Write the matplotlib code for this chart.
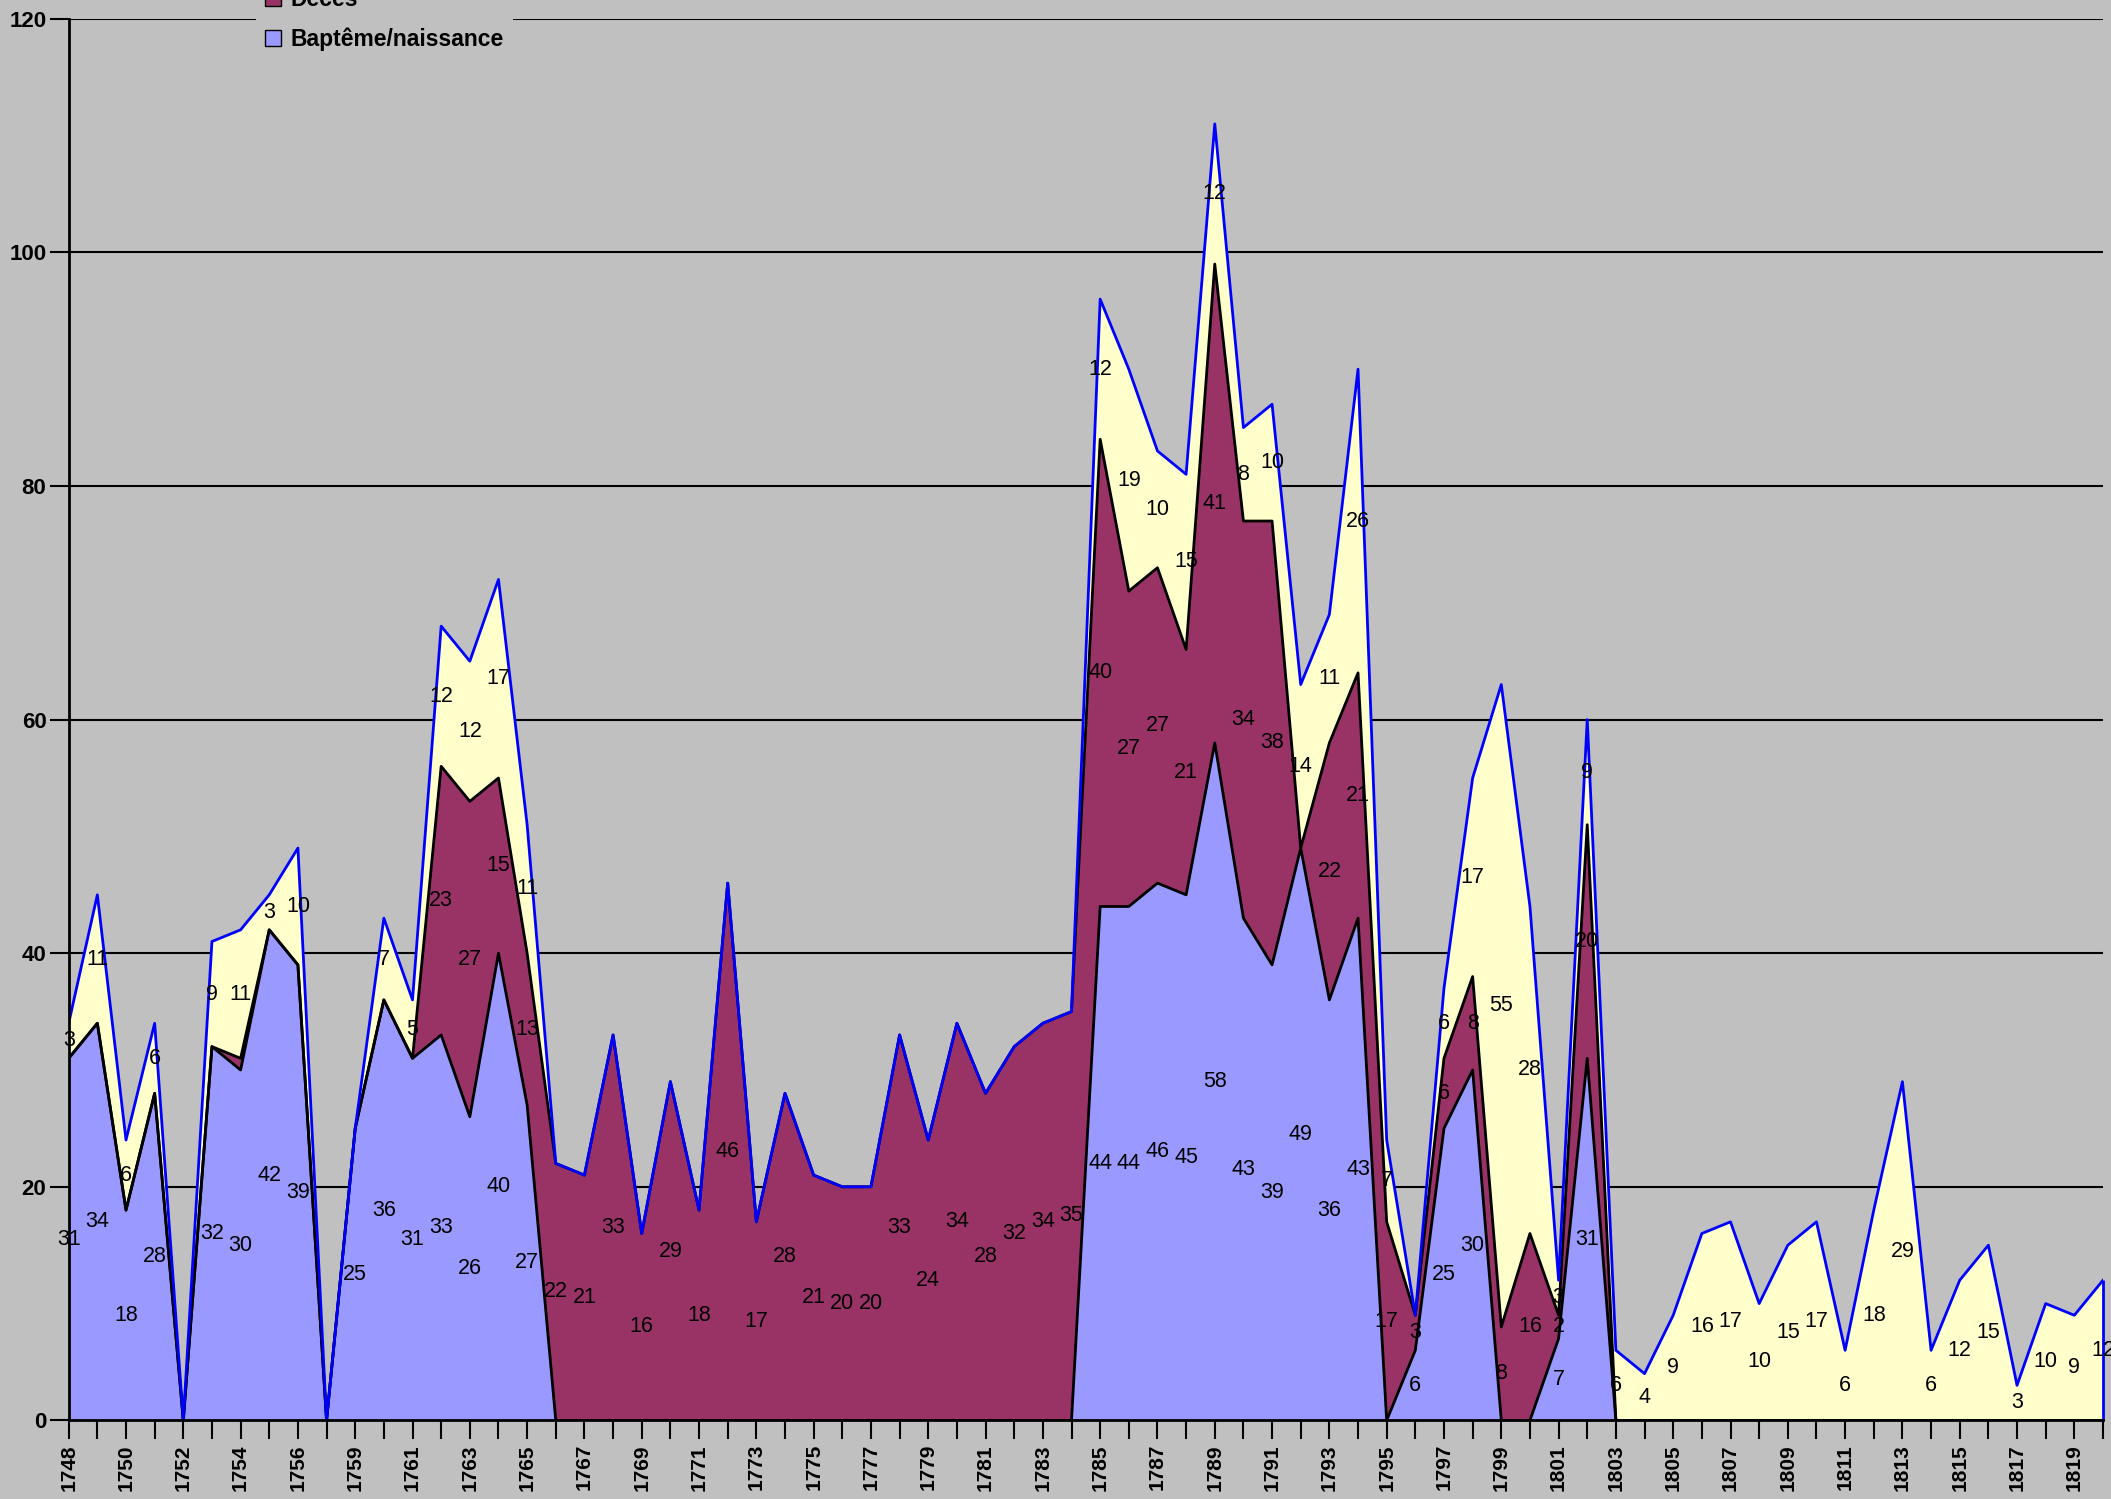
import numpy as np
import matplotlib
matplotlib.use('Agg')
import matplotlib.pyplot as plt
from matplotlib.patches import Patch

plt.rcParams['font.family'] = ['Liberation Sans', 'DejaVu Sans']

# categories (1758 missing in the source sheet)
years = list(range(1748, 1758)) + list(range(1759, 1821))

bapteme = [31, 34, 18, 28, 0, 32, 30, 42, 39, 0,
           25, 36, 31, 33, 26, 40, 27, 0, 0, 0,
           0, 0, 0, 0, 0, 0, 0, 0, 0, 0,
           0, 0, 0, 0, 0, 0, 44, 44, 46, 45,
           58, 43, 39, 49, 36, 43, 0, 6, 25, 30,
           0, 0, 7, 31, 0, 0, 0, 0, 0, 0,
           0, 0, 0, 0, 0, 0, 0, 0, 0, 0,
           0, 0]
deces = [0, 0, 0, 0, 0, 0, 1, 0, 0, 0,
         0, 0, 0, 23, 27, 15, 13, 22, 21, 33,
         16, 29, 18, 46, 17, 28, 21, 20, 20, 33,
         24, 34, 28, 32, 34, 35, 40, 27, 27, 21,
         41, 34, 38, 0, 22, 21, 17, 3, 6, 8,
         8, 16, 2, 20, 0, 0, 0, 0, 0, 0,
         0, 0, 0, 0, 0, 0, 0, 0, 0, 0,
         0, 0]
mariage = [3, 11, 6, 6, 0, 9, 11, 3, 10, 0,
           0, 7, 5, 12, 12, 17, 11, 0, 0, 0,
           0, 0, 0, 0, 0, 0, 0, 0, 0, 0,
           0, 0, 0, 0, 0, 0, 12, 19, 10, 15,
           12, 8, 10, 14, 11, 26, 7, 0, 6, 17,
           55, 28, 3, 9, 6, 4, 9, 16, 17, 10,
           15, 17, 6, 18, 29, 6, 12, 15, 3, 10,
           9, 12]

series_names = ['Mariage', 'Décès', 'Baptême/naissance']
col_b = '#9999FF'
col_d = '#993366'
col_m = '#FFFFCC'
bg = '#C0C0C0'

x = np.arange(len(years))
b = np.array(bapteme)
d = np.array(deces)
m = np.array(mariage)
c1 = b
c2 = b + d
c3 = c2 + m

fig = plt.figure(figsize=(21.11, 14.99), dpi=100, facecolor=bg)
ax = fig.add_axes([0.03254, 0.05244, 0.96366, 0.93502])
ax.set_facecolor(bg)

ax.fill_between(x, 0, c1, color=col_b, lw=0, zorder=2)
ax.fill_between(x, c1, c2, color=col_d, lw=0, zorder=2)
ax.fill_between(x, c2, c3, color=col_m, lw=0, zorder=2)
ax.plot(x, c1, color='black', lw=2, zorder=3)
ax.plot(x, c2, color='black', lw=2, zorder=3)
ax.plot(x, c3, color='#0000FF', lw=2, zorder=4)
ax.vlines(x[-1], 0, c3[-1], color='#0000FF', lw=2, zorder=4, clip_on=False)

# data labels in the middle of each band
for base, vals in ((np.zeros_like(b), b), (c1, d), (c2, m)):
    for xi, y0, v in zip(x, base, vals):
        if v > 1:
            ax.text(xi, y0 + v / 2, str(v), ha='center', va='center',
                    fontsize=15.5, zorder=5, clip_on=False)

ax.set_xlim(0, len(years) - 1)
ax.set_ylim(0, 120)
ax.set_yticks(range(0, 121, 20))
ax.set_xticks(x)
ax.set_xticklabels([str(y) if i % 2 == 0 else '' for i, y in enumerate(years)],
                   rotation=90, fontweight='bold', fontsize=15)
for t in ax.get_yticklabels():
    t.set_fontweight('bold')
    t.set_fontsize(16)
ax.tick_params(axis='x', length=14, width=1.5, pad=3)
ax.tick_params(axis='y', length=14, width=1.5, pad=2)

ax.set_axisbelow(True)
ax.yaxis.grid(True, color='black', lw=1.5)
ax.spines['top'].set_visible(False)
ax.spines['right'].set_visible(False)
ax.spines['left'].set_linewidth(2)
ax.spines['bottom'].set_linewidth(2)
for s in ('left', 'bottom'):
    ax.spines[s].set_zorder(6)

handles = [Patch(facecolor=col_m, edgecolor='black'),
           Patch(facecolor=col_d, edgecolor='black'),
           Patch(facecolor=col_b, edgecolor='black')]
leg = fig.legend(handles, series_names, loc='center left',
                 bbox_to_anchor=(0.1213, 1.0), borderaxespad=0, borderpad=0.4,
                 frameon=True, facecolor=bg, edgecolor='none', framealpha=1,
                 handlelength=0.7, handleheight=0.7, handletextpad=0.4,
                 labelspacing=0.69, prop={'weight': 'bold', 'size': 16.5})

fig.savefig('out.png', dpi=100, facecolor=bg)
